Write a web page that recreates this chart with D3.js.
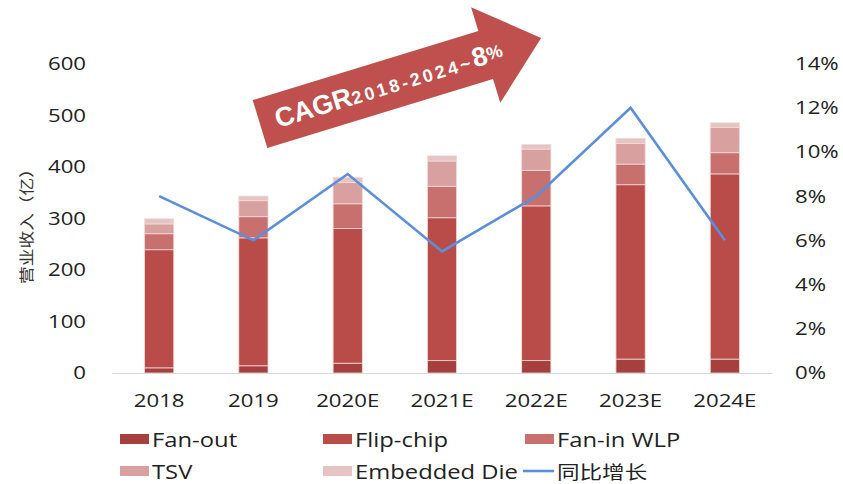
<!DOCTYPE html>
<html>
<head>
<meta charset="utf-8">
<script src="https://cdn.jsdelivr.net/npm/d3@7"></script>
<style>
  body { margin: 0; background: #fff; }
  svg { display: block; }
</style>
</head>
<body>
<svg id="chart"></svg>
<script>
// data (亿)
var years     = ["2018", "2019", "2020E", "2021E", "2022E", "2023E", "2024E"];
var fanOut    = [10, 14, 19, 24, 24, 27, 27];
var flipChip  = [229, 248, 261, 277, 300, 338, 359];
var fanInWlp  = [31, 41, 48, 61, 69, 40, 41];
var tsv       = [19, 31, 41, 49, 41, 40, 49];
var embedded  = [10, 9, 10, 10, 9, 10, 9];
var growth    = [0.08, 0.06, 0.09, 0.055, 0.08, 0.12, 0.06];

var seriesNames = ["Fan-out", "Flip-chip", "Fan-in WLP", "TSV", "Embedded Die"];
var lineName = "同比增长";
var leftTicks  = [0, 100, 200, 300, 400, 500, 600];
var rightTicks = [0, 0.02, 0.04, 0.06, 0.08, 0.10, 0.12, 0.14];

var colors = ["#a5403e", "#b94b49", "#c7706e", "#d8a09f", "#e6c4c3"];
var lineColor = "#5b8fdc";
var font = "'Open Sans', 'Noto Sans', sans-serif";
var cjkFont = "'Noto Sans CJK SC', sans-serif";

var width = 843, height = 484;
var plot = {left: 112, right: 772, top: 63.5, bottom: 373};

var svg = d3.select("#chart")
    .attr("width", width)
    .attr("height", height);

// table for d3.stack
var seriesValues = [fanOut, flipChip, fanInWlp, tsv, embedded];
var table = years.map(function(y, i) {
    var row = {year: y};
    seriesNames.forEach(function(n, k) { row[n] = seriesValues[k][i]; });
    return row;
});
var stacked = d3.stack().keys(seriesNames)(table);

var x = d3.scaleBand()
    .domain(years)
    .range([plot.left, plot.right])
    .paddingInner(0.69)
    .paddingOuter(0.345);

var yLeft = d3.scaleLinear().domain([0, 600]).range([plot.bottom, plot.top]);
var yRight = d3.scaleLinear().domain([0, 0.14]).range([plot.bottom, plot.top]);

// bars
svg.append("g")
    .selectAll("g")
    .data(stacked)
    .enter().append("g")
    .attr("fill", function(d, i) { return colors[i]; })
    .selectAll("rect")
    .data(function(d) { return d; })
    .enter().append("rect")
    .attr("x", function(d) { return x(d.data.year); })
    .attr("width", x.bandwidth())
    .attr("y", function(d) { return yLeft(d[1]); })
    .attr("height", function(d) { return yLeft(d[0]) - yLeft(d[1]); })
    .attr("stroke", "#f3dada")
    .attr("stroke-width", 0.8);

// x axis
var xAxis = svg.append("g")
    .attr("transform", "translate(0," + plot.bottom + ")")
    .call(d3.axisBottom(x).tickSize(0).tickSizeOuter(0).tickPadding(21));
xAxis.select(".domain").attr("stroke", "#d9d9d9").attr("stroke-width", 1.2);
xAxis.selectAll("text")
    .attr("font-family", font)
    .attr("font-size", 18.5)
    .attr("fill", "#222")
    .attr("transform", "scale(1.2,1)");

// left axis
var leftAxis = svg.append("g")
    .attr("transform", "translate(86,0)")
    .call(d3.axisLeft(yLeft).tickValues(leftTicks).tickSize(0).tickPadding(0));
leftAxis.select(".domain").remove();
leftAxis.selectAll("text")
    .attr("font-family", font)
    .attr("font-size", 18.5)
    .attr("fill", "#222")
    .attr("transform", "scale(1.2,1)");

// right axis
var rightAxis = svg.append("g")
    .attr("transform", "translate(795,0)")
    .call(d3.axisRight(yRight).tickValues(rightTicks).tickSize(0).tickPadding(0)
        .tickFormat(d3.format(".0%")));
rightAxis.select(".domain").remove();
rightAxis.selectAll("text")
    .attr("font-family", font)
    .attr("font-size", 18.5)
    .attr("fill", "#222")
    .attr("transform", "scale(1.2,1)");

// y title
svg.append("text")
    .attr("transform", "translate(25.5,222) rotate(-90) scale(1,0.85)")
    .attr("text-anchor", "middle")
    .attr("dominant-baseline", "central")
    .attr("font-family", cjkFont)
    .attr("font-size", 18)
    .attr("fill", "#333")
    .attr("textLength", 124)
    .attr("lengthAdjust", "spacingAndGlyphs")
    .text("营业收入（亿）");

// growth line
var line = d3.line()
    .x(function(d, i) { return x(years[i]) + x.bandwidth() / 2; })
    .y(function(d) { return yRight(d); });

svg.append("path")
    .datum(growth)
    .attr("d", line)
    .attr("fill", "none")
    .attr("stroke", lineColor)
    .attr("stroke-width", 2.6);

// CAGR arrow
var arrow = svg.append("g")
    .attr("transform", "translate(260,124) rotate(-17)");
arrow.append("path")
    .attr("d", "M0,-25L236,-25L236,-50L294,0L236,50L236,25L0,25Z")
    .attr("fill", "#c0504d");
var cagr = arrow.append("text")
    .attr("x", 16)
    .attr("y", 9)
    .attr("fill", "#fff")
    .attr("font-family", "'Liberation Sans', Arial, sans-serif")
    .attr("font-weight", "bold");
cagr.append("tspan").attr("font-size", 27).text("CAGR");
cagr.append("tspan").attr("font-size", 18).attr("letter-spacing", 3).text("2018-2024~");
cagr.append("tspan").attr("font-size", 27).text("8");
cagr.append("tspan").attr("font-size", 18).attr("dy", -3).text("%");

// legend
var legendItems = [
    {name: seriesNames[0], color: colors[0], x: 120, y: 439},
    {name: seriesNames[1], color: colors[1], x: 323, y: 439},
    {name: seriesNames[2], color: colors[2], x: 525, y: 439},
    {name: seriesNames[3], color: colors[3], x: 120, y: 471},
    {name: seriesNames[4], color: colors[4], x: 323, y: 471}
];
var legend = svg.append("g");
var item = legend.selectAll("g")
    .data(legendItems)
    .enter().append("g")
    .attr("transform", function(d) { return "translate(" + d.x + "," + d.y + ")"; });
item.append("rect")
    .attr("x", 0)
    .attr("y", -5)
    .attr("width", 29)
    .attr("height", 10)
    .attr("fill", function(d) { return d.color; });
item.append("text")
    .attr("transform", "translate(32,0) scale(1.22,1)")
    .attr("dominant-baseline", "central")
    .attr("font-family", font)
    .attr("font-size", 19.5)
    .attr("fill", "#222")
    .text(function(d) { return d.name; });

var lineItem = legend.append("g").attr("transform", "translate(523,471)");
lineItem.append("line")
    .attr("x1", 0).attr("x2", 31)
    .attr("stroke", lineColor)
    .attr("stroke-width", 2.6);
lineItem.append("text")
    .attr("transform", "translate(34,0) scale(1.22,1)")
    .attr("dominant-baseline", "central")
    .attr("font-family", cjkFont)
    .attr("font-size", 18.5)
    .attr("fill", "#222")
    .text(lineName);
</script>
</body>
</html>
